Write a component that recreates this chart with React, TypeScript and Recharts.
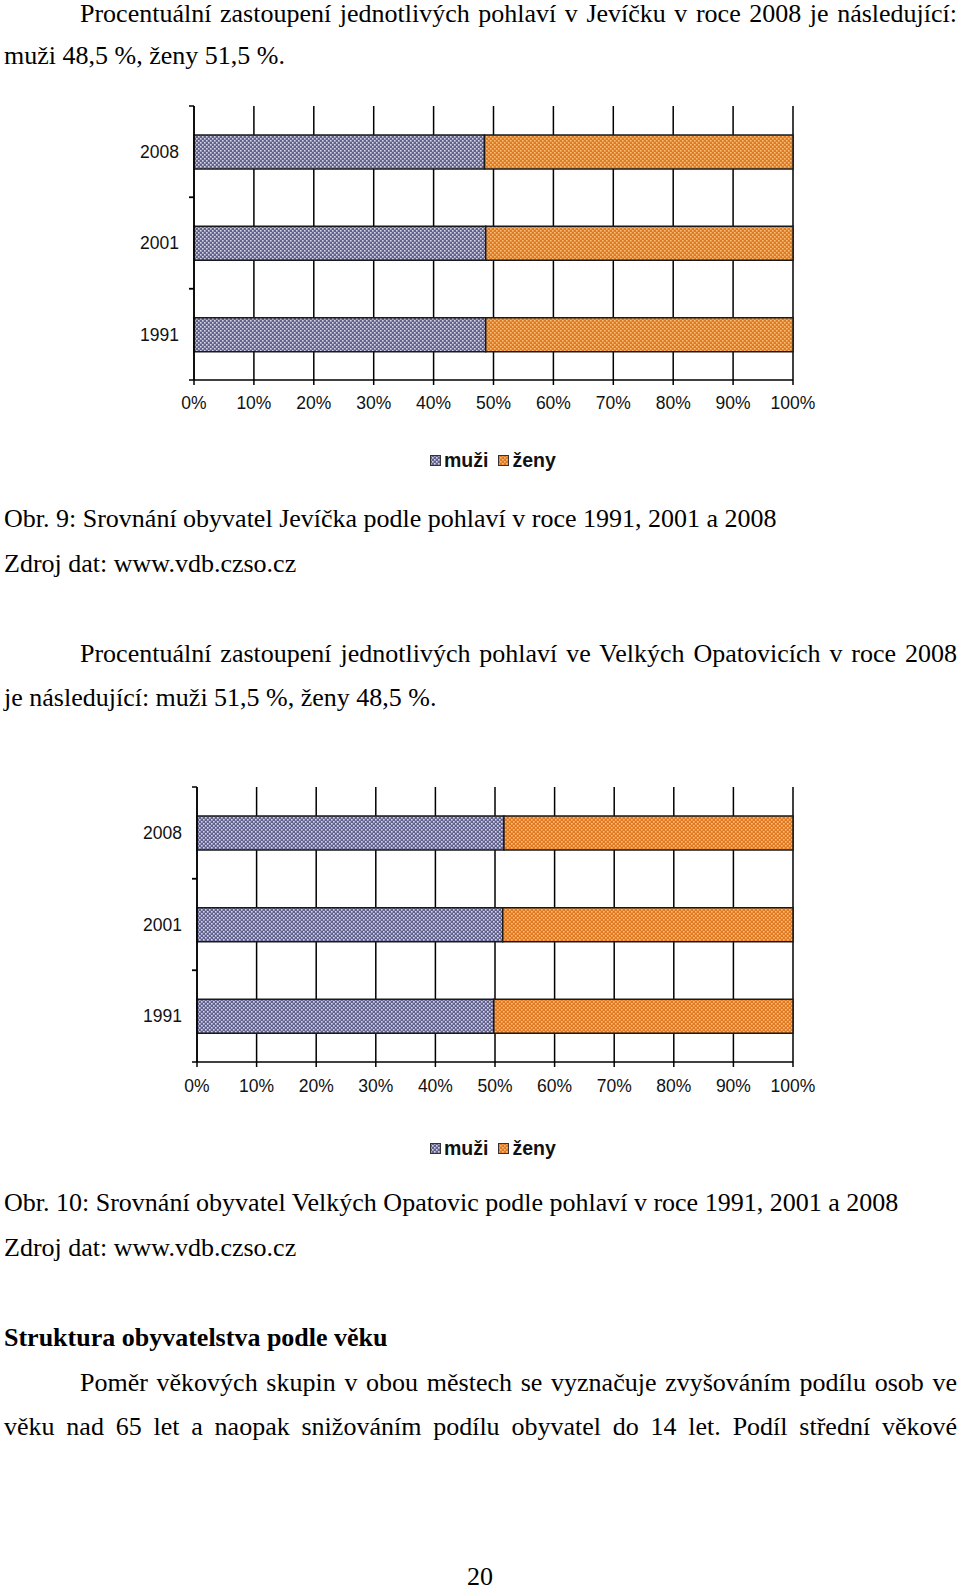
import { BarChart, Bar, XAxis, YAxis, CartesianGrid, Legend } from 'recharts';

// years top to bottom, shares in %
const years = ['2008', '2001', '1991'];
const jevickoMuzi = [48.5, 48.7, 48.7];
const jevickoZeny = [51.5, 51.3, 51.3];
const opatoviceMuzi = [51.5, 51.3, 49.8];
const opatoviceZeny = [48.5, 48.7, 50.2];
const percentTicks = [0, 10, 20, 30, 40, 50, 60, 70, 80, 90, 100];
const seriesNames = ['muži', 'ženy'];

const SERIF = '"Liberation Serif", "Times New Roman", serif';
const SANS = '"Liberation Sans", Arial, sans-serif';

const YearTick = (props: any) => {
  const { x, y, payload } = props;
  const half = payload && payload.offset ? payload.offset : 45.67;
  const ax = x + 15;
  return (
    <g>
      <text x={x} y={y} dy="0.36em" textAnchor="end" fontSize={17.5} fill="#111" fontFamily={SANS}>
        {payload.value}
      </text>
      <line x1={ax - 5} x2={ax} y1={y - half} y2={y - half} stroke="#000" strokeWidth={1.5} />
      <line x1={ax - 5} x2={ax} y1={y + half} y2={y + half} stroke="#000" strokeWidth={1.5} />
    </g>
  );
};

const Patterns = ({ id }: { id: string }) => (
  <defs>
    <pattern id={`${id}-m`} width={4} height={4} patternUnits="userSpaceOnUse">
      <rect width={4} height={4} fill="#62628e" />
      <rect x={0} y={0} width={1.6} height={1.6} fill="#d6d6e6" />
      <rect x={2} y={2} width={1.6} height={1.6} fill="#d6d6e6" />
    </pattern>
    <pattern id={`${id}-z`} width={4} height={4} patternUnits="userSpaceOnUse">
      <rect width={4} height={4} fill="#e07a22" />
      <rect x={0} y={0} width={1.6} height={1.6} fill="#f9bd76" />
      <rect x={2} y={2} width={1.6} height={1.6} fill="#f9bd76" />
    </pattern>
  </defs>
);

interface ChartProps {
  id: string;
  muzi: number[];
  zeny: number[];
  left: number;
  top: number;
  height: number;
  marginRight: number;
  xAxisHeight: number;
  xTickMargin: number;
  legendPad: number;
}

const GenderChart = ({ id, muzi, zeny, left, top, height, marginRight, xAxisHeight, xTickMargin, legendPad }: ChartProps) => {
  const data = years.map((year, i) => ({ year, muzi: muzi[i], zeny: zeny[i] }));

  const renderLegend = () => (
    <div style={{ display: 'flex', alignItems: 'center', height: 40, paddingLeft: legendPad, fontFamily: SANS, fontWeight: 'bold', fontSize: 19.5, color: '#111' }}>
      {seriesNames.map((name, i) => (
        <span key={name} style={{ display: 'flex', alignItems: 'center', marginRight: 10 }}>
          <svg width={11} height={11} style={{ marginRight: 3 }}>
            <rect x={0.5} y={0.5} width={10} height={10} fill={`url(#${id}-${i === 0 ? 'm' : 'z'})`} stroke="#333" />
          </svg>
          {name}
        </span>
      ))}
    </div>
  );

  return (
    <div style={{ position: 'absolute', left, top }}>
      <BarChart
        width={740}
        height={height}
        data={data}
        layout="vertical"
        margin={{ top: 16, right: marginRight, left: 0, bottom: 0 }}
      >
        <Patterns id={id} />
        <CartesianGrid horizontal={false} stroke="#000" strokeWidth={1.5} />
        <XAxis
          type="number"
          domain={[0, 100]}
          ticks={percentTicks}
          tickFormatter={(v: number) => `${v}%`}
          height={xAxisHeight}
          tickSize={5}
          tickMargin={xTickMargin}
          interval={0}
          axisLine={{ stroke: '#000', strokeWidth: 1.5 }}
          tickLine={{ stroke: '#000', strokeWidth: 1.5 }}
          tick={{ fill: '#111', fontSize: 17.5, fontFamily: SANS }}
        />
        <YAxis
          type="category"
          dataKey="year"
          width={94}
          tickSize={5}
          tickMargin={10}
          tickLine={false}
          axisLine={{ stroke: '#000', strokeWidth: 1.5 }}
          tick={<YearTick />}
        />
        <Legend verticalAlign="bottom" content={renderLegend} />
        <Bar dataKey="muzi" name="muži" stackId="a" barSize={34} fill={`url(#${id}-m)`} stroke="#1a1a1a" strokeWidth={1.5} isAnimationActive={false} />
        <Bar dataKey="zeny" name="ženy" stackId="a" barSize={34} fill={`url(#${id}-z)`} stroke="#1a1a1a" strokeWidth={1.5} isAnimationActive={false} />
      </BarChart>
    </div>
  );
};

const Line = ({ center, left = 4, width = 953, lineH = 44, justify = false, bold = false, align, children }: any) => (
  <div
    style={{
      position: 'absolute',
      top: center - lineH / 2,
      left,
      width,
      height: lineH,
      lineHeight: `${lineH}px`,
      fontSize: 26,
      fontFamily: SERIF,
      fontWeight: bold ? 'bold' : 'normal',
      textAlign: align || (justify ? 'justify' : 'left'),
      textAlignLast: align || (justify ? 'justify' : 'left'),
      color: '#000',
    } as any}
  >
    {children}
  </div>
);

export default function App() {
  return (
    <div style={{ position: 'absolute', left: 0, top: 0, width: 960, height: 1590, background: '#fff', overflow: 'hidden' }}>
      <Line center={14} lineH={28} left={80} width={877} justify>
        Procentuální zastoupení jednotlivých pohlaví v Jevíčku v roce 2008 je následující:
      </Line>
      <Line center={56}>muži 48,5 %, ženy 51,5 %.</Line>

      <GenderChart id="jev" muzi={jevickoMuzi} zeny={jevickoZeny} left={100} top={90} height={390}
        marginRight={47} xAxisHeight={60} xTickMargin={12} legendPad={330} />

      <Line center={519}>Obr. 9: Srovnání obyvatel Jevíčka podle pohlaví v roce 1991, 2001 a 2008</Line>
      <Line center={564}>Zdroj dat: www.vdb.czso.cz</Line>

      <Line center={654} left={80} width={877} justify>
        Procentuální zastoupení jednotlivých pohlaví ve Velkých Opatovicích v roce 2008
      </Line>
      <Line center={698}>je následující: muži 51,5 %, ženy 48,5 %.</Line>

      <GenderChart id="vop" muzi={opatoviceMuzi} zeny={opatoviceZeny} left={103} top={771} height={397}
        marginRight={50} xAxisHeight={66} xTickMargin={13} legendPad={327} />

      <Line center={1203}>Obr. 10: Srovnání obyvatel Velkých Opatovic podle pohlaví v roce 1991, 2001 a 2008</Line>
      <Line center={1248}>Zdroj dat: www.vdb.czso.cz</Line>

      <Line center={1338} bold>Struktura obyvatelstva podle věku</Line>
      <Line center={1383} left={80} width={877} justify>
        Poměr věkových skupin v obou městech se vyznačuje zvyšováním podílu osob ve
      </Line>
      <Line center={1427} justify>
        věku nad 65 let a naopak snižováním podílu obyvatel do 14 let. Podíl střední věkové
      </Line>

      <Line center={1577} left={0} width={960} align="center">20</Line>
    </div>
  );
}
